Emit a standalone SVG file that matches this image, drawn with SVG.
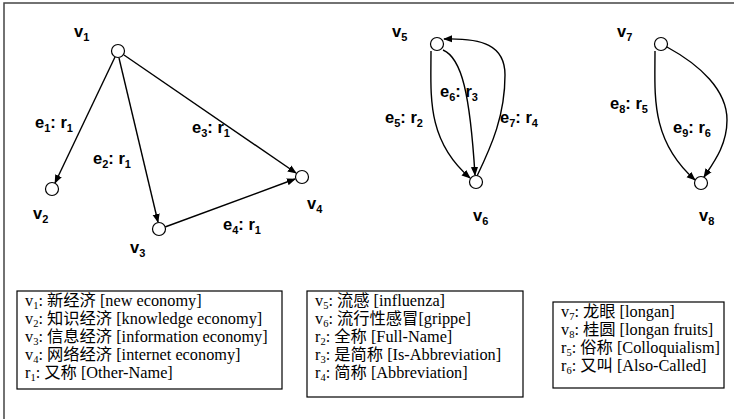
<svg xmlns="http://www.w3.org/2000/svg" width="734" height="419" viewBox="0 0 734 419">
<defs>
<marker id="ah" viewBox="0 0 10 10" refX="9" refY="5" markerWidth="9" markerHeight="9" markerUnits="userSpaceOnUse" orient="auto">
<path d="M0,1 L10,5 L0,9 Z" fill="#000"/>
</marker>
</defs>
<style>
.frame{fill:none;stroke:#444;stroke-width:1.5}
.node{fill:#fff;stroke:#000;stroke-width:1.2}
.edge{fill:none;stroke:#000;stroke-width:1.4;marker-end:url(#ah)}
.lbl{font-family:"Liberation Sans",Arial,sans-serif;font-weight:bold;font-size:16.5px;fill:#000}
.sub{font-size:11px}
.box{fill:#fff;stroke:#000;stroke-width:1.2}
.leg{font-family:"Liberation Serif","Noto Sans CJK SC",serif;font-size:16.3px;fill:#000}
.ls{font-size:10.5px}
</style>
<rect x="0" y="0" width="734" height="419" fill="#fff"/>
<path class="frame" d="M4,419 V3 H734"/>

<g id="connectors">
<line class="edge" x1="115" y1="57" x2="55" y2="183"/>
<line class="edge" x1="119" y1="58" x2="158" y2="222"/>
<line class="edge" x1="124" y1="55" x2="296" y2="173"/>
<line class="edge" x1="165" y1="227" x2="295" y2="179"/>
<path class="edge" d="M431,51 C431,95 426,140 470,178"/>
<path class="edge" d="M443,50 C462,58 470,95 475,175"/>
<path class="edge" d="M477,176 C492,145 505,115 505,75 C505,45 482,38 444,39"/>
<path class="edge" d="M655,51 C655,95 650,140 695,180"/>
<path class="edge" d="M667,47 C700,65 727,90 727,120 C727,145 714,162 704,177"/>
</g>

<g id="v1"><circle class="node" cx="118" cy="51" r="6.5"/><text class="lbl" x="74" y="37">v<tspan class="sub" dy="4">1</tspan></text></g>
<g id="v2"><circle class="node" cx="52" cy="189" r="6.5"/><text class="lbl" x="33" y="219">v<tspan class="sub" dy="4">2</tspan></text></g>
<g id="v3"><circle class="node" cx="159" cy="229" r="6.5"/><text class="lbl" x="130" y="253">v<tspan class="sub" dy="4">3</tspan></text></g>
<g id="v4"><circle class="node" cx="302" cy="177" r="6.5"/><text class="lbl" x="307" y="209">v<tspan class="sub" dy="4">4</tspan></text></g>
<g id="v5"><circle class="node" cx="437" cy="44" r="6.5"/><text class="lbl" x="392" y="37">v<tspan class="sub" dy="4">5</tspan></text></g>
<g id="v6"><circle class="node" cx="476" cy="182" r="6.5"/><text class="lbl" x="473" y="221">v<tspan class="sub" dy="4">6</tspan></text></g>
<g id="v7"><circle class="node" cx="661" cy="44" r="6.5"/><text class="lbl" x="617" y="37">v<tspan class="sub" dy="4">7</tspan></text></g>
<g id="v8"><circle class="node" cx="701" cy="183" r="6.5"/><text class="lbl" x="699" y="221">v<tspan class="sub" dy="4">8</tspan></text></g>

<g id="edge-labels">
<text class="lbl" x="35" y="128">e<tspan class="sub" dy="4">1</tspan><tspan dy="-4">: r</tspan><tspan class="sub" dy="4">1</tspan></text>
<text class="lbl" x="93" y="164">e<tspan class="sub" dy="4">2</tspan><tspan dy="-4">: r</tspan><tspan class="sub" dy="4">1</tspan></text>
<text class="lbl" x="192" y="133">e<tspan class="sub" dy="4">3</tspan><tspan dy="-4">: r</tspan><tspan class="sub" dy="4">1</tspan></text>
<text class="lbl" x="223" y="230">e<tspan class="sub" dy="4">4</tspan><tspan dy="-4">: r</tspan><tspan class="sub" dy="4">1</tspan></text>
<text class="lbl" x="385" y="123">e<tspan class="sub" dy="4">5</tspan><tspan dy="-4">: r</tspan><tspan class="sub" dy="4">2</tspan></text>
<text class="lbl" x="440" y="97">e<tspan class="sub" dy="4">6</tspan><tspan dy="-4">: r</tspan><tspan class="sub" dy="4">3</tspan></text>
<text class="lbl" x="500" y="123">e<tspan class="sub" dy="4">7</tspan><tspan dy="-4">: r</tspan><tspan class="sub" dy="4">4</tspan></text>
<text class="lbl" x="610" y="109">e<tspan class="sub" dy="4">8</tspan><tspan dy="-4">: r</tspan><tspan class="sub" dy="4">5</tspan></text>
<text class="lbl" x="673" y="133">e<tspan class="sub" dy="4">9</tspan><tspan dy="-4">: r</tspan><tspan class="sub" dy="4">6</tspan></text>
</g>

<g id="legend1">
<rect class="box" x="17" y="291" width="265" height="98"/>
<text class="leg" x="25" y="306">v<tspan class="ls" dy="3">1</tspan><tspan dy="-3">: 新经济 [new economy]</tspan></text>
<text class="leg" x="25" y="324">v<tspan class="ls" dy="3">2</tspan><tspan dy="-3">: 知识经济 [knowledge economy]</tspan></text>
<text class="leg" x="25" y="342">v<tspan class="ls" dy="3">3</tspan><tspan dy="-3">: 信息经济 [information economy]</tspan></text>
<text class="leg" x="25" y="360">v<tspan class="ls" dy="3">4</tspan><tspan dy="-3">: 网络经济 [internet economy]</tspan></text>
<text class="leg" x="25" y="378">r<tspan class="ls" dy="3">1</tspan><tspan dy="-3">: 又称 [Other-Name]</tspan></text>
</g>
<g id="legend2">
<rect class="box" x="307" y="291" width="216" height="106"/>
<text class="leg" x="315" y="306">v<tspan class="ls" dy="3">5</tspan><tspan dy="-3">: 流感 [influenza]</tspan></text>
<text class="leg" x="315" y="324">v<tspan class="ls" dy="3">6</tspan><tspan dy="-3">: 流行性感冒[grippe]</tspan></text>
<text class="leg" x="315" y="342">r<tspan class="ls" dy="3">2</tspan><tspan dy="-3">: 全称 [Full-Name]</tspan></text>
<text class="leg" x="315" y="360">r<tspan class="ls" dy="3">3</tspan><tspan dy="-3">: 是简称 [Is-Abbreviation]</tspan></text>
<text class="leg" x="315" y="378">r<tspan class="ls" dy="3">4</tspan><tspan dy="-3">: 简称 [Abbreviation]</tspan></text>
</g>
<g id="legend3">
<rect class="box" x="553" y="302" width="171" height="86"/>
<text class="leg" x="561" y="317">v<tspan class="ls" dy="3">7</tspan><tspan dy="-3">: 龙眼 [longan]</tspan></text>
<text class="leg" x="561" y="335">v<tspan class="ls" dy="3">8</tspan><tspan dy="-3">: 桂圆 [longan fruits]</tspan></text>
<text class="leg" x="561" y="353">r<tspan class="ls" dy="3">5</tspan><tspan dy="-3">: 俗称 [Colloquialism]</tspan></text>
<text class="leg" x="561" y="371">r<tspan class="ls" dy="3">6</tspan><tspan dy="-3">: 又叫 [Also-Called]</tspan></text>
</g>
</svg>
